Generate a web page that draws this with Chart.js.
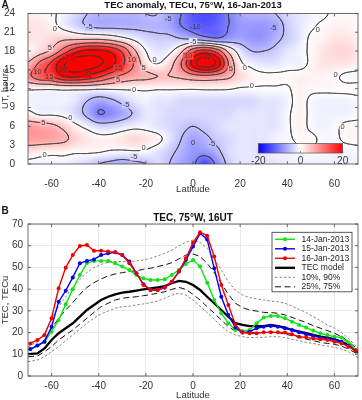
<!DOCTYPE html>
<html><head><meta charset="utf-8">
<script src="https://cdn.jsdelivr.net/npm/chart.js@4"></script>
<style>
html,body{margin:0;padding:0;background:#fff;}
#wrap{width:362px;height:400px;position:relative;overflow:hidden;}
canvas{display:block;position:absolute;left:0;}
</style></head><body>
<div id="wrap">
<canvas id="cA" width="362" height="200" style="top:0"></canvas>
<canvas id="cB" width="362" height="200" style="top:200px"></canvas>
</div>
<script>
// ---------- shared ticks ----------
const latTicks = [-60, -40, -20, 0, 20, 40, 60];
const utTicks = [0, 3, 6, 9, 12, 15, 18, 21, 24];
const tecTicks = [0, 10, 20, 30, 40, 50, 60, 70];

// ---------- panel A: TEC anomaly grid (TECu), rows = UT, columns = latitude ----------
const gridLat = [-70,-65,-60,-55,-50,-45,-40,-35,-30,-25,-20,-15,-10,-5,0,5,10,15,20,25,30,35,40,45,50,55,60,65,70];
const gridUT = [0, 2, 4, 6, 8, 10, 12, 14, 16, 18, 20, 22, 24];
const anomUT00 = [-1,-1,-1,-1,-2,-3,-5,-6,-7,-6,-5,-3,-5,-7,-9,-14,-9,-4,-2,-2,-2,-2,-1,-1,-1,-1,-1,-1,-1];
const anomUT02 = [2.5,1.5,1,1,0.5,0.5,0.3,-0.3,-0.5,-0.3,-0.5,-2,-4,-6,-8,-8,-6,-3,-2,-2,-2,-1,-1,-0.5,-0.5,-0.5,-1,-1,-0.5];
const anomUT04 = [7.5,7.5,7,6,3.5,2,1,1,2,3,2,1,-2,-5,-7,-6,-4,-3,-2,-2,-2,-1,-0.5,0.5,0.5,-0.5,-0.5,0.5,0.5];
const anomUT06 = [7.5,7,6,4,1,-1,-3,-3,-2,-1,-1,-2,-3,-4,-5,-4,-3,-2,-2,-2,-2,-2,-0.5,1,-0.5,-1,-0.5,0.5,0.5];
const anomUT08 = [1,-0.5,-0.5,-1,-3,-6,-10,-9,-7,-4.5,-2,-2,-3,-3,-3,-3,-3,-3,-2,-2,-2,-2,-0.5,1,-0.5,-1,-1,-1,-0.5];
const anomUT10 = [-1,-1,-1,-1,-2,-5,-7,-6,-4,-2,-1,-2,-2,-3,-3,-3,-3,-3,-3,-3,-2,-2,-1,1,-0.5,-1,-1,-1,-0.5];
const anomUT12 = [0.5,0.5,0.5,1,1,1,0.5,0.5,0.5,0.5,0.5,0.3,0.3,0.3,0.3,0.5,0.5,0.3,-0.3,-0.3,-0.3,-0.3,-0.3,1,0.5,0.5,0.5,0.5,0.5];
const anomUT14 = [9,13,15,20,21,19,16,12,9,7,6,5,5,6,8,9,8,6,3,1,0.5,0.5,0.5,1,1,1,0.5,-0.5,-0.5];
const anomUT16 = [5.5,11,16,24,29,28,26,22,16,9.5,2,0,3,10,22,29,24,10,1,-1,-2,-2,-1,-1,0.5,2,2,2,1];
const anomUT18 = [1,3,6,12,18,21,21,19,14,6,0,-2,-1,4,13,17,13,4,-2,-5,-5,-4,-2,-1,0.5,2,3,3,2];
const anomUT20 = [2,2,3,4,4,4,4,3,1,-1,-3,-4,-4,-5,-6,-8,-9.5,-8,-7,-8,-8,-6,-4,-2,0.5,1,2,2,1];
const anomUT22 = [2,2,1,-1,-3,-5,-6,-6,-6,-6,-6,-6,-7,-10,-12,-13,-12,-10,-8,-8,-8,-7,-4,-2,-0.5,0.5,1,1,0.5];
const anomUT24 = [1,1,0.5,-1,-3,-5,-6,-6,-6,-6,-5,-5,-7,-10,-13,-14,-13,-10,-7,-6,-6,-5,-3,-2,-1,-0.5,0.5,0.5,0.5];
const anomaly = [anomUT00, anomUT02, anomUT04, anomUT06, anomUT08, anomUT10, anomUT12, anomUT14, anomUT16, anomUT18, anomUT20, anomUT22, anomUT24];
const contourLevels = [-15, -10, -5, 0, 5, 10, 15, 20, 25];
const colorbarTicks = [-20, 0, 20];
const contourLabels = [
  {lat:-60.7, ut:18.5, text:'5'}, {lat:-58.6, ut:21.6, text:'0'}, {lat:-44, ut:21.8, text:'-5'},
  {lat:-10.5, ut:23.1, text:'-5'}, {lat:1, ut:21.8, text:'-10'}, {lat:0, ut:19.5, text:'-5'},
  {lat:34, ut:21.7, text:'-5'}, {lat:53, ut:21.3, text:'0'}, {lat:-52, ut:16.9, text:'20'},
  {lat:-55, ut:15, text:'20'}, {lat:-45, ut:14.3, text:'20'}, {lat:-31.7, ut:15.3, text:'15'},
  {lat:-26, ut:16.6, text:'10'}, {lat:-66, ut:14.7, text:'10'}, {lat:-61, ut:13.9, text:'15'},
  {lat:-21, ut:15.3, text:'5'}, {lat:-16.3, ut:16.6, text:'0'}, {lat:-2, ut:17.2, text:'10'},
  {lat:6, ut:17, text:'20'}, {lat:16, ut:15.1, text:'5'}, {lat:22, ut:15.3, text:'0'},
  {lat:-31.8, ut:13.4, text:'5'}, {lat:-25, ut:11.8, text:'0'}, {lat:25, ut:12.4, text:'0'},
  {lat:60.5, ut:14.2, text:'0'}, {lat:-28.4, ut:9.4, text:'-5'}, {lat:-52, ut:7.3, text:'0'},
  {lat:-63.5, ut:6.5, text:'5'}, {lat:-21, ut:2.5, text:'0'}, {lat:-25, ut:1.1, text:'-5'},
  {lat:-63, ut:1.5, text:'0'}, {lat:0, ut:3.4, text:'0'}, {lat:8, ut:3.2, text:'-5'},
  {lat:63.5, ut:5.9, text:'0'}
];

// ---------- panel B: TEC at 16 UT (TECu) ----------
const obsLat = [-69,-66,-63,-60,-57,-54,-51,-48,-45,-42,-39,-36,-33,-30,-27,-24,-21,-18,-15,-12,-9,-6,-3,0,3,6,9,12,15,18,21,24,27,30,33,36,39,42,45,48,51,54,57,60,63,66,69];
const tec14Jan = [12.4,14.0,15.8,20.4,25.8,33.0,40.0,46.5,52.0,53.0,53.0,53.0,51.9,50.4,48.8,46.5,45.0,44.2,44.2,44.5,46.5,48.8,51.6,53.4,50.4,43.0,35.0,28.9,24.3,21.2,20.7,21.2,24.3,26.9,27.6,27.6,26.6,25.0,23.5,22.3,20.9,19.7,18.9,18.1,17.7,15.4,12.0];
const tec15Jan = [12.4,14.0,15.8,22.7,34.2,39.3,45.4,51.9,53.0,53.7,55.7,56.5,57.0,55.7,52.7,47.3,42.2,39.6,39.6,40.8,43.4,48.1,53.4,59.6,65.7,62.9,49.6,36.5,28.1,22.3,20.0,20.4,22.0,22.7,23.0,22.7,22.0,21.2,20.1,19.2,18.4,17.7,17.3,16.6,15.8,13.8,11.7];
const tec16Jan = [15.0,16.6,18.9,26.6,40.4,49.9,55.7,59.9,60.3,57.7,57.7,57.3,57.0,55.7,51.9,47.3,41.9,39.6,39.6,40.8,43.4,48.1,54.2,61.4,66.2,64.6,55.0,41.9,32.7,23.5,20.0,19.7,19.7,20.1,20.1,20.1,20.0,19.2,18.1,17.8,17.3,16.9,16.6,15.8,15.0,13.5,11.7];
const modelLat = [-70,-66,-63,-60,-57,-54,-51,-48,-45,-42,-39,-36,-33,-30,-27,-24,-21,-18,-15,-12,-9,-6,-3,0,3,6,9,12,15,18,21,24,27,30,33,36,39,42,45,48,51,54,57,60,63,66,70];
const tecModel = [10.1,10.4,12.7,16.6,19.7,22.0,24.3,27.3,30.4,32.7,35.0,36.5,37.6,38.4,38.8,39.3,39.9,40.4,40.8,41.4,42.7,43.8,43.4,41.9,39.6,36.5,33.5,30.4,27.3,24.3,23.5,23.0,23.0,23.0,23.5,23.0,22.3,21.2,20.4,19.7,18.9,18.1,17.7,16.9,15.8,14.3,10.8];
const tecP90 = [13.5,15.8,19.7,26.6,31.9,36.5,40.8,44.5,47.6,49.9,51.4,52.3,52.7,52.7,52.7,53.0,53.4,54.2,55.3,56.5,58.0,59.9,61.6,62.6,61.6,58.8,54.2,48.8,43.4,39.6,37.3,36.1,35.5,35.0,34.5,34.2,33.5,32.2,30.7,29.2,27.3,25.5,23.5,22.0,20.0,17.3,12.8];
const tecP75 = [12.0,13.8,16.6,22.0,26.6,30.4,33.8,37.6,40.8,43.0,44.7,46.1,47.0,47.6,48.1,48.5,49.1,49.6,50.4,51.1,52.2,53.9,55.7,56.2,55.0,51.9,47.6,42.7,37.6,33.5,31.5,30.4,29.9,29.3,29.2,28.9,28.1,27.0,25.8,24.6,23.2,22.0,20.9,19.7,18.1,15.8,12.2];
const tecP25 = [8.9,9.2,11.2,13.5,16.6,18.9,21.2,23.9,26.6,29.3,31.9,33.5,35.0,35.8,36.2,36.5,37.0,37.5,38.1,38.8,39.9,40.8,39.9,37.6,35.0,31.9,28.9,25.8,22.7,20.7,20.1,20.0,20.0,20.1,20.3,20.0,19.3,18.6,17.8,17.0,16.3,15.5,15.0,14.6,13.8,12.4,10.0];
const tecP10 = [6.6,7.4,8.9,11.2,13.5,16.3,18.9,21.6,24.3,26.6,28.6,29.9,31.2,31.9,32.2,32.7,33.2,33.8,34.5,35.8,37.3,38.1,37.3,35.0,32.2,29.2,26.1,23.0,20.4,18.9,18.1,17.7,17.8,17.8,18.1,18.1,17.7,16.9,16.3,15.5,15.0,14.3,13.8,13.2,12.4,11.2,8.4];

// ---------- helpers ----------
const FONT = "'Liberation Sans', Arial, Helvetica, sans-serif";
const TXT = '#333333';
Chart.defaults.font.family = FONT;

function cr(p0, p1, p2, p3, t) {
  return 0.5 * ((2 * p1) + (-p0 + p2) * t + (2 * p0 - 5 * p1 + 4 * p2 - p3) * t * t + (-p0 + 3 * p1 - 3 * p2 + p3) * t * t * t);
}
function sampleAnomaly(lat, ut) {
  const nx = gridLat.length, ny = gridUT.length;
  let gx = (lat - gridLat[0]) / (gridLat[1] - gridLat[0]);
  let gy = (ut - gridUT[0]) / (gridUT[1] - gridUT[0]);
  gx = Math.max(0, Math.min(nx - 1, gx)); gy = Math.max(0, Math.min(ny - 1, gy));
  const i = Math.min(nx - 2, Math.floor(gx)), j = Math.min(ny - 2, Math.floor(gy));
  const tx = gx - i, ty = gy - j;
  const row = jj => {
    const r = anomaly[Math.max(0, Math.min(ny - 1, jj))];
    const g = k => r[Math.max(0, Math.min(nx - 1, k))];
    return cr(g(i - 1), g(i), g(i + 1), g(i + 2), tx);
  };
  return cr(row(j - 1), row(j), row(j + 1), row(j + 2), ty);
}
function colorFor(v) {
  let t = Math.max(-1, Math.min(1, v / 20));
  if (t < 0) { const k = 1 + t; return [Math.round(255 * k), Math.round(255 * k), 255]; }
  const k = 1 - t; return [255, Math.round(255 * k), Math.round(255 * k)];
}

// ---------- plugins ----------
const heatPlugin = {
  id: 'heat',
  beforeDatasetsDraw(chart) {
    const { ctx, chartArea: a, scales: { x, y } } = chart;
    const w = Math.round(a.right - a.left), h = Math.round(a.bottom - a.top);
    const off = document.createElement('canvas'); off.width = w; off.height = h;
    const octx = off.getContext('2d');
    const img = octx.createImageData(w, h);
    for (let j = 0; j < h; j++) {
      const ut = y.getValueForPixel(a.top + j + 0.5);
      for (let i = 0; i < w; i++) {
        const lat = x.getValueForPixel(a.left + i + 0.5);
        const c = colorFor(sampleAnomaly(lat, ut));
        const k = (j * w + i) * 4;
        img.data[k] = c[0]; img.data[k + 1] = c[1]; img.data[k + 2] = c[2]; img.data[k + 3] = 255;
      }
    }
    octx.putImageData(img, 0, 0);
    ctx.save();
    ctx.drawImage(off, a.left, a.top);
    ctx.beginPath(); ctx.rect(a.left, a.top, a.right - a.left, a.bottom - a.top); ctx.clip();
    // contours by marching squares on a fine sampling of the field
    const dLat = 0.5, dUT = 0.1;
    const lats = [], uts = [];
    for (let v = x.min; v <= x.max + 1e-9; v += dLat) lats.push(v);
    for (let v = y.min; v <= y.max + 1e-9; v += dUT) uts.push(v);
    const px = lats.map(v => x.getPixelForValue(v)), py = uts.map(v => y.getPixelForValue(v));
    const F = uts.map(u => lats.map(l => sampleAnomaly(l, u)));
    ctx.strokeStyle = 'rgba(55,55,55,0.9)'; ctx.lineWidth = 0.85; ctx.lineCap = 'round';
    ctx.beginPath();
    for (const L of contourLevels) {
      for (let j = 0; j < uts.length - 1; j++) {
        for (let i = 0; i < lats.length - 1; i++) {
          const a0 = F[j][i], b0 = F[j][i + 1], c0 = F[j + 1][i + 1], d0 = F[j + 1][i];
          const pts = [];
          const edge = (v1, v2, x1, y1, x2, y2) => {
            if ((v1 >= L) !== (v2 >= L)) { const t = (L - v1) / (v2 - v1); pts.push([x1 + (x2 - x1) * t, y1 + (y2 - y1) * t]); }
          };
          edge(a0, b0, px[i], py[j], px[i + 1], py[j]);
          edge(b0, c0, px[i + 1], py[j], px[i + 1], py[j + 1]);
          edge(c0, d0, px[i + 1], py[j + 1], px[i], py[j + 1]);
          edge(d0, a0, px[i], py[j + 1], px[i], py[j]);
          for (let k = 0; k + 1 < pts.length; k += 2) { ctx.moveTo(pts[k][0], pts[k][1]); ctx.lineTo(pts[k + 1][0], pts[k + 1][1]); }
        }
      }
    }
    ctx.stroke();
    // contour labels
    ctx.font = '7.5px ' + FONT; ctx.textAlign = 'center'; ctx.textBaseline = 'middle';
    for (const lb of contourLabels) {
      const X = x.getPixelForValue(lb.lat), Y = y.getPixelForValue(lb.ut);
      const c = colorFor(sampleAnomaly(lb.lat, lb.ut));
      const tw = ctx.measureText(lb.text).width;
      ctx.fillStyle = 'rgb(' + c.join(',') + ')';
      ctx.fillRect(X - tw / 2 - 1, Y - 3.5, tw + 2, 7);
      ctx.fillStyle = '#3a3a3a'; ctx.fillText(lb.text, X, Y);
    }
    ctx.restore();
    // colorbar
    const cx0 = x.getPixelForValue(27.7), cx1 = x.getPixelForValue(63.5);
    const cy0 = y.getPixelForValue(3.25), cy1 = y.getPixelForValue(1.75);
    ctx.save();
    const grad = ctx.createLinearGradient(cx0, 0, cx1, 0);
    for (let s = 0; s <= 20; s++) { const v = -20 + 2 * s; const c = colorFor(v); grad.addColorStop(s / 20, 'rgb(' + c.join(',') + ')'); }
    ctx.fillStyle = grad; ctx.fillRect(cx0, cy0, cx1 - cx0, cy1 - cy0);
    ctx.strokeStyle = '#555'; ctx.lineWidth = 0.7; ctx.strokeRect(cx0, cy0, cx1 - cx0, cy1 - cy0);
    ctx.font = '10px ' + FONT; ctx.fillStyle = TXT; ctx.textAlign = 'center'; ctx.textBaseline = 'middle';
    for (const t of colorbarTicks) {
      const X = cx0 + (t + 20) / 40 * (cx1 - cx0);
      ctx.beginPath(); ctx.moveTo(X, cy1); ctx.lineTo(X, cy1 - 2); ctx.stroke();
      ctx.fillText(String(t), X, cy1 + 8.5);
    }
    ctx.restore();
  }
};

const framePlugin = {
  id: 'frame',
  afterDraw(chart, args, opts) {
    const { ctx, chartArea: a, scales: { x, y } } = chart;
    ctx.save();
    ctx.strokeStyle = '#4a4a4a'; ctx.lineWidth = 0.8;
    ctx.strokeRect(a.left, a.top, a.right - a.left, a.bottom - a.top);
    ctx.beginPath();
    for (const t of x.ticks) { const X = x.getPixelForValue(t.value); ctx.moveTo(X, a.bottom); ctx.lineTo(X, a.bottom - 3); ctx.moveTo(X, a.top); ctx.lineTo(X, a.top + 3); }
    for (const t of y.ticks) { const Y = y.getPixelForValue(t.value); ctx.moveTo(a.left, Y); ctx.lineTo(a.left + 3, Y); ctx.moveTo(a.right, Y); ctx.lineTo(a.right - 3, Y); }
    ctx.stroke();
    ctx.font = 'bold 10px ' + FONT; ctx.fillStyle = '#111'; ctx.textAlign = 'left'; ctx.textBaseline = 'middle';
    ctx.fillText(opts.letter, 1.5, opts.letterY);
    ctx.restore();
  }
};

const legendPlugin = {
  id: 'boxLegend',
  afterDatasetsDraw(chart) {
    const { ctx, chartArea: a } = chart;
    const items = chart.data.datasets.filter(d => d.inLegend).sort((p, q) => p.legendRank - q.legendRank);
    const bw = 80, bh = 59.5, bx = a.right - 86, by = a.top + 8.3;
    ctx.save();
    ctx.fillStyle = '#fff'; ctx.fillRect(bx, by, bw, bh);
    ctx.strokeStyle = '#333'; ctx.lineWidth = 0.8; ctx.setLineDash([]); ctx.strokeRect(bx, by, bw, bh);
    ctx.font = '8.5px ' + FONT; ctx.textBaseline = 'middle'; ctx.textAlign = 'left';
    items.forEach((d, k) => {
      const yy = by + 7 + k * 9.5;
      ctx.strokeStyle = d.borderColor; ctx.lineWidth = d.borderWidth; ctx.setLineDash(d.borderDash || []);
      ctx.beginPath(); ctx.moveTo(bx + 3, yy); ctx.lineTo(bx + 23, yy); ctx.stroke();
      ctx.setLineDash([]);
      if (d.pointRadius > 0) { ctx.fillStyle = d.pointBackgroundColor; ctx.beginPath(); ctx.arc(bx + 13, yy, d.pointRadius, 0, Math.PI * 2); ctx.fill(); }
      ctx.fillStyle = '#222'; ctx.fillText(d.label, bx + 29.5, yy);
    });
    ctx.restore();
  }
};

// ---------- chart A ----------
const cells = [];
gridUT.forEach((u, j) => gridLat.forEach((l, i) => cells.push({ x: l, y: u, v: anomaly[j][i] })));

const tickFont = { size: 10, family: FONT };
const axisTitleFont = { size: 9.5, family: FONT };

new Chart(document.getElementById('cA'), {
  type: 'scatter',
  data: { datasets: [{ label: 'TEC anomaly', data: cells, pointRadius: 0, showLine: false }] },
  options: {
    responsive: false, animation: false, events: [],
    layout: { padding: { left: 0, right: 4, top: 0, bottom: 0 } },
    plugins: {
      legend: { display: false }, tooltip: { enabled: false },
      title: { display: true, fullSize: false, text: 'TEC anomaly, TECu, 75°W, 16-Jan-2013', color: '#111', font: { size: 9.5, weight: 'bold', family: FONT }, padding: { top: 0, bottom: 2 } },
      frame: { letter: 'A', letterY: 5 }
    },
    scales: {
      x: {
        type: 'linear', min: -70, max: 70,
        afterBuildTicks: s => { s.ticks = latTicks.map(v => ({ value: v })); },
        afterFit: s => { s.height = 36; },
        grid: { display: false }, border: { display: false },
        ticks: { font: tickFont, color: TXT, padding: 6, maxRotation: 0, autoSkip: false },
        title: { display: true, text: 'Latitude', color: TXT, font: axisTitleFont, padding: { top: 0, bottom: 5 } }
      },
      y: {
        type: 'linear', min: 0, max: 24,
        afterBuildTicks: s => { s.ticks = utTicks.map(v => ({ value: v })); },
        afterFit: s => { s.width = 28; },
        grid: { display: false }, border: { display: false },
        ticks: { font: tickFont, color: TXT, padding: 5, autoSkip: false },
        title: { display: true, text: 'UT, hours', color: TXT, font: axisTitleFont, padding: { top: 0, bottom: 0 } }
      }
    }
  },
  plugins: [heatPlugin, framePlugin]
});

// ---------- chart B ----------
const pts = (xs, ys) => xs.map((v, i) => ({ x: v, y: ys[i] }));
const GREEN = 'rgb(20,225,20)', BLUE = 'rgb(0,0,245)', RED = 'rgb(240,0,0)';
const obsStyle = c => ({ borderColor: c, backgroundColor: c, pointBackgroundColor: c, pointBorderWidth: 0, pointRadius: 2, borderWidth: 1.4, tension: 0 });
const lineStyle = (c, w, dash) => ({ borderColor: c, backgroundColor: c, borderWidth: w, borderDash: dash, pointRadius: 0, tension: 0 });

new Chart(document.getElementById('cB'), {
  type: 'line',
  data: {
    datasets: [
      Object.assign({ label: '16-Jan-2013', data: pts(obsLat, tec16Jan), order: 1, inLegend: true, legendRank: 3 }, obsStyle(RED)),
      Object.assign({ label: '15-Jan-2013', data: pts(obsLat, tec15Jan), order: 2, inLegend: true, legendRank: 2 }, obsStyle(BLUE)),
      Object.assign({ label: '14-Jan-2013', data: pts(obsLat, tec14Jan), order: 3, inLegend: true, legendRank: 1 }, obsStyle(GREEN)),
      Object.assign({ label: 'TEC model', data: pts(modelLat, tecModel), order: 4, inLegend: true, legendRank: 4 }, lineStyle('#000', 2.3, [])),
      Object.assign({ label: '10%, 90%', data: pts(modelLat, tecP10), order: 6, inLegend: true, legendRank: 5 }, lineStyle('rgb(120,120,120)', 0.9, [2.5, 2])),
      Object.assign({ label: '90%', data: pts(modelLat, tecP90), order: 6 }, lineStyle('rgb(120,120,120)', 0.9, [2.5, 2])),
      Object.assign({ label: '25%, 75%', data: pts(modelLat, tecP25), order: 5, inLegend: true, legendRank: 6 }, lineStyle('#111', 1.0, [6, 3.5])),
      Object.assign({ label: '75%', data: pts(modelLat, tecP75), order: 5 }, lineStyle('#111', 1.0, [6, 3.5]))
    ]
  },
  options: {
    responsive: false, animation: false, events: [],
    layout: { padding: { left: 0, right: 4, top: 12, bottom: 0 } },
    plugins: {
      legend: { display: false }, tooltip: { enabled: false },
      title: { display: true, fullSize: false, text: 'TEC, 75°W, 16UT', color: '#111', font: { size: 10, weight: 'bold', family: FONT }, padding: { top: 0, bottom: 0 } },
      frame: { letter: 'B', letterY: 11.5 }
    },
    scales: {
      x: {
        type: 'linear', min: -70, max: 70,
        afterBuildTicks: s => { s.ticks = latTicks.map(v => ({ value: v })); },
        afterFit: s => { s.height = 24; },
        grid: { display: true, color: '#e4e4e4', lineWidth: 0.8, drawTicks: false }, border: { display: false },
        ticks: { font: tickFont, color: TXT, padding: 4, maxRotation: 0, autoSkip: false },
        title: { display: true, text: 'Latitude', color: TXT, font: Object.assign({ lineHeight: 1 }, axisTitleFont), padding: { top: 0, bottom: 0 } }
      },
      y: {
        type: 'linear', min: 0, max: 70,
        afterBuildTicks: s => { s.ticks = tecTicks.map(v => ({ value: v })); },
        afterFit: s => { s.width = 28; },
        grid: { display: true, color: '#e4e4e4', lineWidth: 0.8, drawTicks: false }, border: { display: false },
        ticks: { font: tickFont, color: TXT, padding: 5, autoSkip: false },
        title: { display: true, text: 'TEC, TECu', color: TXT, font: axisTitleFont, padding: { top: 0, bottom: 0 } }
      }
    }
  },
  plugins: [framePlugin, legendPlugin]
});
</script>
</body></html>
